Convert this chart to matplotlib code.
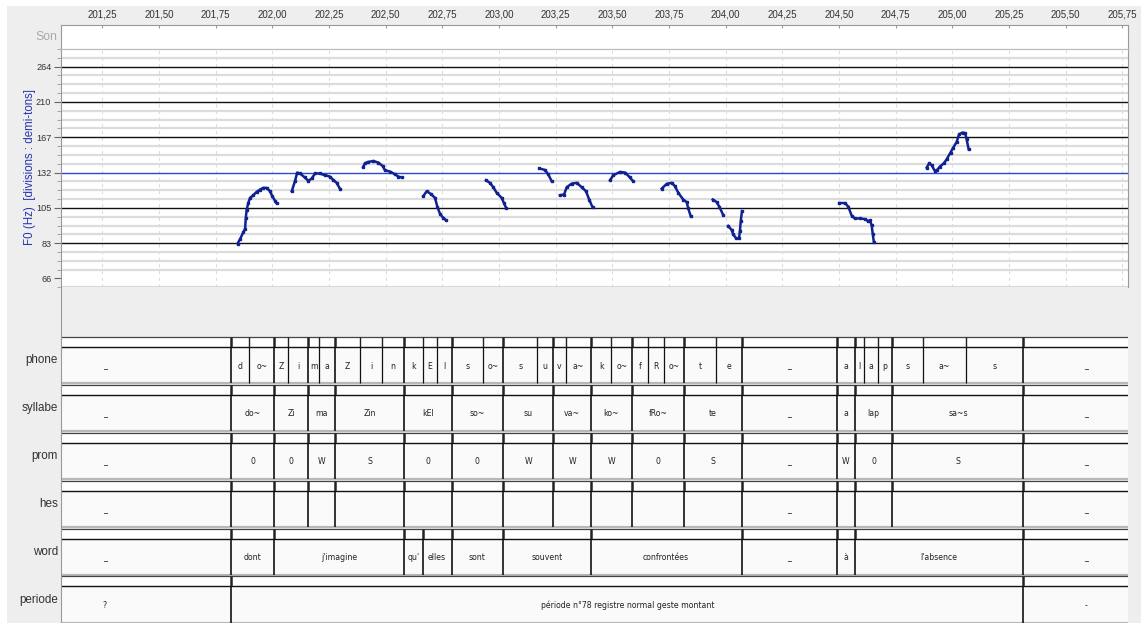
import matplotlib
matplotlib.use("Agg")
import matplotlib.pyplot as plt
from matplotlib.patches import Rectangle

W, H = 1141, 623
T0, T1 = 201.068, 205.775      # visible time window (s)
REF_HZ = 66.1                  # bottom labelled semitone division

# ---- F0 contour, one list per voiced stretch (time s, Hz) ----
f0_t = [
    [201.847, 201.858, 201.872, 201.880, 201.883, 201.887, 201.894, 201.902, 201.916,
     201.931, 201.946, 201.960, 201.975, 201.990, 202.000, 202.012, 202.019],
    [202.086, 202.100, 202.110, 202.122, 202.144, 202.159, 202.174, 202.189, 202.210,
     202.232, 202.254, 202.269, 202.284, 202.299],
    [202.401, 202.409, 202.423, 202.446, 202.468, 202.487, 202.497, 202.519, 202.541,
     202.556, 202.571],
    [202.666, 202.681, 202.699, 202.718, 202.728, 202.740, 202.754, 202.766],
    [202.943, 202.960, 202.975, 202.990, 203.012, 203.022, 203.031],
    [203.178, 203.203, 203.217, 203.232],
    [203.269, 203.287, 203.299, 203.321, 203.343, 203.365, 203.384, 203.398, 203.413],
    [203.490, 203.504, 203.534, 203.556, 203.578, 203.592],
    [203.718, 203.740, 203.762, 203.776, 203.791, 203.813, 203.828, 203.835, 203.846],
    [203.943, 203.960, 203.972, 203.989],
    [204.011, 204.026, 204.033, 204.045, 204.059, 204.063, 204.067, 204.072],
    [204.501, 204.526, 204.541, 204.556, 204.570, 204.592, 204.614, 204.629, 204.637,
     204.644, 204.649, 204.654],
    [204.887, 204.898, 204.909, 204.923, 204.933, 204.945, 204.963, 204.975, 204.992,
     205.004, 205.019, 205.030, 205.045, 205.057, 205.063, 205.072],
]
f0_hz = [
    [83.1, 85.5, 89.4, 91.4, 97.9, 103.6, 108.3, 112.0, 114.0, 116.5, 118.3, 119.6,
     119.6, 117.0, 113.2, 110.0, 108.1],
    [117.0, 124.9, 132.2, 131.4, 128.0, 125.2, 127.2, 131.4, 131.4, 129.9, 128.8,
     126.0, 123.6, 118.8],
    [137.2, 140.5, 141.7, 142.6, 141.1, 138.0, 134.2, 133.1, 130.8, 128.8, 128.0],
    [113.2, 117.0, 115.0, 112.0, 105.8, 100.9, 98.3, 96.8],
    [125.7, 123.6, 120.1, 115.8, 112.0, 108.3, 105.1],
    [135.8, 134.5, 130.8, 125.2],
    [114.0, 114.5, 120.1, 123.0, 123.6, 120.1, 117.0, 110.8, 105.3],
    [125.7, 129.9, 132.7, 132.2, 128.0, 124.9],
    [119.0, 122.8, 123.6, 121.0, 115.8, 110.8, 109.0, 104.6, 99.3],
    [110.8, 109.0, 105.8, 100.2],
    [93.2, 90.9, 88.4, 86.1, 85.9, 90.2, 96.6, 102.7],
    [108.3, 108.3, 105.8, 99.7, 97.9, 97.9, 97.5, 96.2, 96.8, 93.6, 88.4, 83.7],
    [136.6, 140.5, 138.6, 133.6, 134.5, 137.5, 140.5, 144.2, 150.7, 155.7, 161.5,
     169.9, 171.8, 171.1, 164.4, 154.0],
]
y_labels = ['66', '83', '105', '132', '167', '210', '264']

# ---- annotation tiers: boundaries (s) and interval labels ----
phone_bounds = [200.706, 201.818, 201.899, 202.008, 202.071, 202.159, 202.207, 202.277,
                202.387, 202.483, 202.581, 202.663, 202.728, 202.791, 202.928, 203.019,
                203.169, 203.240, 203.294, 203.405, 203.496, 203.587, 203.656, 203.727,
                203.817, 203.959, 204.070, 204.490, 204.569, 204.610, 204.671, 204.736,
                204.872, 205.059, 205.314, 205.863]
phone_labels = ['_', 'd', 'o~', 'Z', 'i', 'm', 'a', 'Z', 'i', 'n', 'k', 'E', 'l', 's',
                'o~', 's', 'u', 'v', 'a~', 'k', 'o~', 'f', 'R', 'o~', 't', 'e', '_', 'a',
                'l', 'a', 'p', 's', 'a~', 's', '_']
syl_bounds = [200.706, 201.818, 202.008, 202.159, 202.277, 202.581, 202.791, 203.019,
              203.240, 203.405, 203.587, 203.817, 204.070, 204.490, 204.569, 204.736,
              205.314, 205.863]
syl_labels = ['_', 'do~', 'Zi', 'ma', 'Zin', 'kEl', 'so~', 'su', 'va~', 'ko~', 'fRo~',
              'te', '_', 'a', 'lap', 'sa~s', '_']
prom_labels = ['_', '0', '0', 'W', 'S', '0', '0', 'W', 'W', 'W', '0', 'S', '_', 'W',
               '0', 'S', '_']
hes_labels = ['_', '', '', '', '', '', '', '', '', '', '', '', '_', '', '', '', '_']
word_bounds = [200.706, 201.818, 202.008, 202.581, 202.663, 202.791, 203.019, 203.405,
               204.070, 204.490, 204.569, 205.314, 205.863]
word_labels = ['_', 'dont', "j'imagine", "qu'", 'elles', 'sont', 'souvent',
               'confrontées', '_', 'à', "l'absence", '_']
per_bounds = [200.706, 201.818, 205.314, 205.863]
per_labels = ['?', 'période n°78 registre normal geste montant', '-']

tiers = [('phone', phone_bounds, phone_labels),
         ('syllabe', syl_bounds, syl_labels),
         ('prom', syl_bounds, prom_labels),
         ('hes', syl_bounds, hes_labels),
         ('word', word_bounds, word_labels),
         ('periode', per_bounds, per_labels)]


def px_rect(x0, y0, x1, y1):
    return [x0 / W, 1 - y1 / H, (x1 - x0) / W, (y1 - y0) / H]


fig = plt.figure(figsize=(W / 100, H / 100), dpi=100, facecolor='white')
fig.patches.append(Rectangle((7 / W, 0), 1, 1 - 6 / H, transform=fig.transFigure,
                             facecolor='#eeeeee', edgecolor='none', zorder=-10))

xticks = [201.25 + 0.25 * k for k in range(19)]

# "Son" strip with the time axis on top
ax_s = fig.add_axes(px_rect(61, 25, 1128, 49))
ax_s.set_xlim(T0, T1)
ax_s.set_yticks([])
ax_s.xaxis.tick_top()
ax_s.set_xticks(xticks)
ax_s.set_xticklabels([f"{t:.2f}".replace('.', ',') for t in xticks],
                     fontsize=7, color='#333', family='Liberation Sans')
ax_s.tick_params(axis='x', direction='in', length=2, color='#999', pad=4)
for s in ax_s.spines.values():
    s.set_color('#999')
fig.text(57 / W, 1 - 37 / H, 'Son', ha='right', va='center', fontsize=8.8,
         color='#aaaaaa', family='Liberation Sans')

# F0 panel
ax_f = fig.add_axes(px_rect(61, 49, 1128, 287.3))
ax_f.set_xlim(T0, T1)
ax_f.set_yscale('log')
ax_f.set_ylim(REF_HZ * 2 ** (-1 / 12), REF_HZ * 2 ** (26 / 12))
semis = [REF_HZ * 2 ** (k / 12) for k in range(-1, 27)]
majors = [REF_HZ * 2 ** (k / 3) for k in range(7)]
ax_f.set_yticks(semis, minor=True)
ax_f.set_yticks(majors)
ax_f.set_yticklabels(y_labels, fontsize=6.6, color='#333', family='Liberation Sans')
ax_f.yaxis.set_minor_formatter(plt.NullFormatter())
ax_f.tick_params(axis='y', which='major', length=5, color='#666', pad=2)
ax_f.tick_params(axis='y', which='minor', length=3, color='#999')
ax_f.set_xticks(xticks)
ax_f.tick_params(axis='x', bottom=False, labelbottom=False)
ax_f.grid(axis='y', which='minor', color='#dcdcdc', lw=1.6)
ax_f.grid(axis='x', which='major', color='#dddddd', lw=0.8, ls=(0, (3, 3)))
for hz, lab in zip(majors, y_labels):
    if lab == '66':
        continue
    ax_f.axhline(hz, color='#2a48d0' if lab == '132' else '#111', lw=1.0, zorder=2)
for s in ax_f.spines.values():
    s.set_color('#999')
ax_f.spines['top'].set_color('#bbb')
for tt, hh in zip(f0_t, f0_hz):
    ax_f.plot(tt, hh, color='#0f2290', lw=1.8, marker='s', ms=2.0, zorder=3)
fig.text(30 / W, 1 - 167 / H, 'F0 (Hz)  [divisions : demi-tons]', rotation=90,
         ha='center', va='center', fontsize=8.3, color='#2536b0',
         family='Liberation Sans')

# tiers
ax_t = fig.add_axes(px_rect(61, 287.3, 1128, H))
ax_t.set_xlim(T0, T1)
ax_t.set_ylim(H, 287.3)
ax_t.set_facecolor('#eeeeee')
ax_t.set_xticks([])
ax_t.set_yticks([])
for k, s in ax_t.spines.items():
    s.set_visible(k == 'left')
    s.set_color('#999')

for i, (name, bounds, labels) in enumerate(tiers):
    top = 336.7 + 47.95 * i
    band = top + 10
    bot = top + 46.6
    ax_t.add_patch(Rectangle((T0, top), T1 - T0, 10, facecolor='white', edgecolor='none'))
    ax_t.add_patch(Rectangle((T0, band), T1 - T0, bot - band, facecolor='#fafafa',
                             edgecolor='none'))
    ax_t.hlines(top, T0, T1, color='#444', lw=0.9)
    ax_t.hlines(band, T0, T1, color='#111', lw=1.0)
    ax_t.hlines(bot, T0, T1, color='#b8b8b8', lw=1.6)
    for b in bounds[1:-1]:
        thick = b in syl_bounds or name != 'phone'
        ax_t.vlines(b, top, band, color='#222', lw=1.8 if thick else 1.0)
        ax_t.vlines(b, band, bot, color='#111', lw=1.2 if thick else 0.9)
    for a, b, lab in zip(bounds[:-1], bounds[1:], labels):
        c = (a + b) / 2
        if T0 < c < T1 and lab:
            ax_t.text(c, (band + bot) / 2 + 1, lab, ha='center', va='center',
                      fontsize=5.6, color='#222', family='DejaVu Sans')
    fig.text(58 / W, 1 - (top + bot) / 2 / H, name, ha='right', va='center',
             fontsize=8.4, color='#333', family='Liberation Sans')

fig.savefig('out.png', dpi=100, facecolor=fig.get_facecolor())
